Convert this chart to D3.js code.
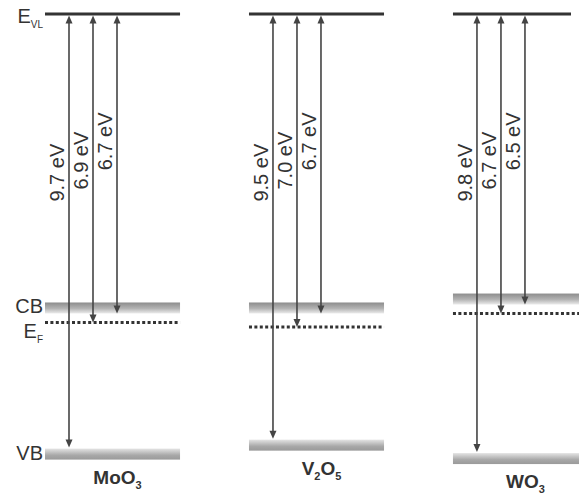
<!DOCTYPE html>
<html>
<head>
<meta charset="utf-8">
<script src="https://cdn.jsdelivr.net/npm/d3@7"></script>
<style>
  html, body { margin: 0; padding: 0; background: #fff; }
  svg { display: block; }
  text { font-family: "Liberation Sans", Arial, sans-serif; fill: #333; }
</style>
</head>
<body>
<svg id="chart" width="579" height="499"></svg>
<script>
// Oxide materials and their energy levels measured downward from the vacuum level (eV)
const materials = ["MoO3", "V2O5", "WO3"];
// formula pieces: [text, isSubscript]
const labelParts = [
  [["MoO", false], ["3", true]],
  [["V", false], ["2", true], ["O", false], ["5", true]],
  [["WO", false], ["3", true]]
];
const vbDepth = [9.7, 9.5, 9.8];   // E_VL -> valence band edge
const efDepth = [6.9, 7.0, 6.7];   // E_VL -> Fermi level
const cbDepth = [6.7, 6.7, 6.5];   // E_VL -> conduction band edge
const arrowKinds = ["VB", "EF", "CB"];

const svg = d3.select("#chart");
const ink = "#333";
const arrowInk = "#444";

// Energy axis: 0 eV at the vacuum level, deeper levels lower on the page
const y = d3.scaleLinear().domain([0, 10]).range([14, 461]);
// One column per material
const x = d3.scaleBand().domain(materials).range([45, 588]).paddingInner(0.338);
// Arrow positions inside a column
const ax = d3.scalePoint().domain(arrowKinds).range([24, 72]);
// Where each arrow's label is centred (in eV below the vacuum level)
const labelCenter = { VB: 3.55, EF: 3.28, CB: 2.85 };

const defs = svg.append("defs");
const cbGrad = defs.append("linearGradient").attr("id", "cbGrad")
  .attr("x1", 0).attr("y1", 0).attr("x2", 0).attr("y2", 1);
cbGrad.append("stop").attr("offset", "0%").attr("stop-color", "#8c8c8c");
cbGrad.append("stop").attr("offset", "55%").attr("stop-color", "#b4b4b4");
cbGrad.append("stop").attr("offset", "100%").attr("stop-color", "#ececec");
const vbGrad = defs.append("linearGradient").attr("id", "vbGrad")
  .attr("x1", 0).attr("y1", 0).attr("x2", 0).attr("y2", 1);
vbGrad.append("stop").attr("offset", "0%").attr("stop-color", "#e4e4e4");
vbGrad.append("stop").attr("offset", "60%").attr("stop-color", "#a8a8a8");
vbGrad.append("stop").attr("offset", "100%").attr("stop-color", "#9a9a9a");

const bandH = 11;

materials.forEach((m, i) => {
  const x0 = x(m), w = x.bandwidth();
  const g = svg.append("g");

  // vacuum level
  g.append("line")
    .attr("x1", x0).attr("x2", Math.min(x0 + w, 571))
    .attr("y1", y(0)).attr("y2", y(0))
    .attr("stroke", ink).attr("stroke-width", 3);

  // conduction band (above its edge)
  g.append("rect")
    .attr("x", x0).attr("width", w)
    .attr("y", y(cbDepth[i]) - bandH).attr("height", bandH)
    .attr("fill", "url(#cbGrad)");

  // valence band (below its edge)
  g.append("rect")
    .attr("x", x0).attr("width", w)
    .attr("y", y(vbDepth[i]) + 1).attr("height", bandH)
    .attr("fill", "url(#vbGrad)");

  // Fermi level
  g.append("line")
    .attr("x1", x0).attr("x2", x0 + w)
    .attr("y1", y(efDepth[i])).attr("y2", y(efDepth[i]))
    .attr("stroke", ink).attr("stroke-width", 3)
    .attr("stroke-dasharray", "3,2.4");

  // double-headed arrows from the vacuum level
  const depths = { VB: vbDepth[i], EF: efDepth[i], CB: cbDepth[i] };
  arrowKinds.forEach(k => {
    const xa = x0 + ax(k);
    const yTop = y(0) + 1.5, yBot = y(depths[k]);
    const hl = 8, hw = 3.5;
    g.append("line")
      .attr("x1", xa).attr("x2", xa)
      .attr("y1", yTop + hl - 1).attr("y2", yBot - hl + 1)
      .attr("stroke", arrowInk).attr("stroke-width", 1.6);
    g.append("path")
      .attr("d", `M${xa},${yTop} L${xa - hw},${yTop + hl} L${xa + hw},${yTop + hl} Z`)
      .attr("fill", arrowInk);
    g.append("path")
      .attr("d", `M${xa},${yBot} L${xa - hw},${yBot - hl} L${xa + hw},${yBot - hl} Z`)
      .attr("fill", arrowInk);

    const cy = y(labelCenter[k]);
    g.append("text")
      .attr("transform", `translate(${xa - 5},${cy}) rotate(-90)`)
      .attr("text-anchor", "middle")
      .attr("font-size", 20)
      .text(`${d3.format(".1f")(depths[k])} eV`);
  });

  // material name with subscripts
  const t = g.append("text")
    .attr("x", x0 + w / 2 + 5)
    .attr("y", y(vbDepth[i]) + 36)
    .attr("text-anchor", "middle")
    .attr("font-size", 19)
    .attr("font-weight", "bold");
  labelParts[i].forEach(([s, sub], j) => {
    const prevSub = j > 0 && labelParts[i][j - 1][1];
    t.append("tspan")
      .attr("font-size", sub ? 11 : 19)
      .attr("dy", sub ? 5 : (prevSub ? -5 : 0))
      .text(s);
  });
});

// Level names on the left
function levelLabel(main, sub, yPos) {
  const t = svg.append("text")
    .attr("x", 43).attr("y", yPos)
    .attr("text-anchor", "end")
    .attr("font-size", 20);
  t.append("tspan").text(main);
  if (sub) t.append("tspan").attr("font-size", 10).attr("dy", 5).text(sub);
}
levelLabel("E", "VL", y(0) + 9);
levelLabel("CB", null, y(cbDepth[0]));
levelLabel("E", "F", y(efDepth[0]) + 16);
levelLabel("VB", null, y(vbDepth[0]) + 12);
</script>
</body>
</html>
